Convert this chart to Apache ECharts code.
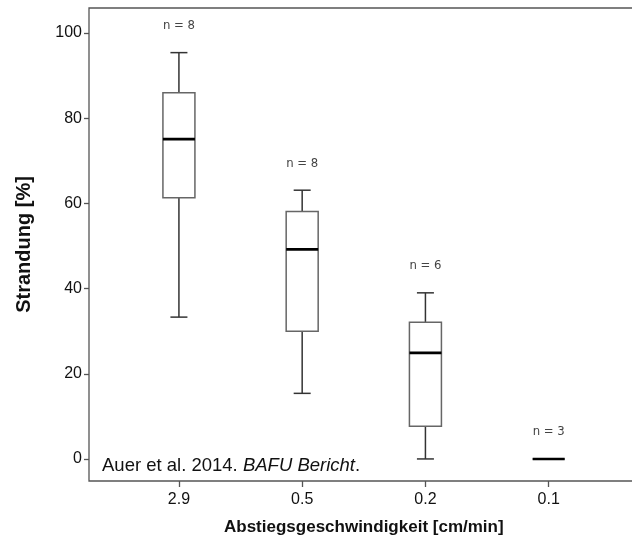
<!DOCTYPE html>
<html>
<head>
<meta charset="utf-8">
<script src="https://cdn.jsdelivr.net/npm/echarts@6/dist/echarts.min.js"></script>
<style>
  html, body { margin: 0; padding: 0; background: #fff; }
  #main { width: 632px; height: 551px; }
</style>
</head>
<body>
<div id="main"></div>
<script>
// descent speed classes and the box statistics
const categories = ['2.9', '0.5', '0.2', '0.1'];
const lowWhisker = [33.3, 15.4, 0, 0];
const lowerQuartile = [61.3, 30.0, 7.7, 0];
const medians = [75.1, 49.2, 24.9, 0];
const upperQuartile = [86.0, 58.1, 32.1, 0];
const highWhisker = [95.4, 63.1, 39.0, 0];
const counts = [8, 8, 6, 3];
const yTicks = [0, 20, 40, 60, 80, 100];

document.addEventListener('DOMContentLoaded', function () {
    drawBoxChart();
});

function renderBox(params, api) {
    let x = api.value(0);
    let lo = api.coord([x, api.value(1)]);
    let q1 = api.coord([x, api.value(2)]);
    let med = api.coord([x, api.value(3)]);
    let q3 = api.coord([x, api.value(4)]);
    let hi = api.coord([x, api.value(5)]);
    let cx = lo[0];
    let half = 16;
    let cap = 8.5;
    let line = function (x1, y1, x2, y2, color, width) {
        return {
            type: 'line',
            shape: { x1: x1, y1: y1, x2: x2, y2: y2 },
            style: { stroke: color, lineWidth: width }
        };
    };
    return {
        type: 'group',
        children: [
            line(cx, hi[1], cx, q3[1], '#333', 1.5),
            line(cx, q1[1], cx, lo[1], '#333', 1.5),
            line(cx - cap, hi[1], cx + cap, hi[1], '#333', 1.5),
            line(cx - cap, lo[1], cx + cap, lo[1], '#333', 1.5),
            {
                type: 'rect',
                shape: { x: cx - half, y: q3[1], width: half * 2, height: q1[1] - q3[1] },
                style: { fill: '#fff', stroke: '#666', lineWidth: 1.5 }
            },
            line(cx - half, med[1], cx + half, med[1], '#000', 2.6),
            {
                type: 'text',
                x: cx,
                y: hi[1] - 27,
                style: {
                    text: 'n = ' + counts[params.dataIndex],
                    fill: '#444',
                    font: '13px "Liberation Sans Narrow", "DejaVu Sans Condensed", sans-serif',
                    align: 'center',
                    verticalAlign: 'middle'
                }
            }
        ]
    };
}

function drawBoxChart() {

    let myChart = echarts.init(document.getElementById('main'));

    let boxData = categories.map(function (c, i) {
        return [i, lowWhisker[i], lowerQuartile[i], medians[i], upperQuartile[i], highWhisker[i]];
    });

    let font = 'Arial, "Liberation Sans", sans-serif';

    let option = {
        animation: false,
        textStyle: { fontFamily: font },
        title: {
            left: 102,
            top: 456,
            padding: 0,
            text: '{a|Auer et al. 2014. }{b|BAFU Bericht}{a|.}',
            textStyle: {
                rich: {
                    a: { fontSize: 18.5, color: '#111', fontWeight: 'normal', fontFamily: font },
                    b: { fontSize: 18.5, color: '#111', fontWeight: 'normal', fontStyle: 'italic', fontFamily: font }
                }
            }
        },
        grid: [
            // frame, its right edge lies outside the picture
            {
                left: 89, top: 8, width: 620, height: 473,
                outerBoundsMode: 'none',
                show: true, borderColor: '#555', borderWidth: 1.3, backgroundColor: 'transparent'
            },
            // data area
            { left: 117.3, top: 8, width: 493, height: 473, outerBoundsMode: 'none' }
        ],
        xAxis: [
            { gridIndex: 0, type: 'value', show: false },
            {
                gridIndex: 1,
                type: 'category',
                data: categories,
                axisLine: { show: false, onZero: false },
                axisTick: { show: true, alignWithLabel: true, length: 6, lineStyle: { color: '#555', width: 1.3 } },
                axisLabel: { fontSize: 16, color: '#111', margin: 11 },
                name: 'Abstiegsgeschwindigkeit [cm/min]',
                nameLocation: 'middle',
                nameGap: 38,
                nameTextStyle: { fontSize: 17, fontWeight: 'bold', color: '#111' }
            }
        ],
        yAxis: [
            { gridIndex: 0, type: 'value', show: false },
            {
                gridIndex: 1,
                type: 'value',
                min: -5.18,
                max: 105.88,
                offset: 28.3,
                splitLine: { show: false },
                axisLine: { show: false, onZero: false },
                axisTick: { show: true, length: 5, customValues: yTicks, lineStyle: { color: '#555', width: 1.3 } },
                axisLabel: { fontSize: 16, color: '#111', margin: 7, customValues: yTicks },
                name: 'Strandung [%]',
                nameLocation: 'middle',
                nameGap: 55,
                nameRotate: 90,
                nameTextStyle: { fontSize: 20, fontWeight: 'bold', color: '#111' }
            }
        ],
        series: [
            {
                type: 'custom',
                xAxisIndex: 1,
                yAxisIndex: 1,
                data: boxData,
                encode: { x: 0, y: [1, 2, 3, 4, 5] },
                renderItem: renderBox
            }
        ]
    };

    myChart.setOption(option);
}
</script>
</body>
</html>
